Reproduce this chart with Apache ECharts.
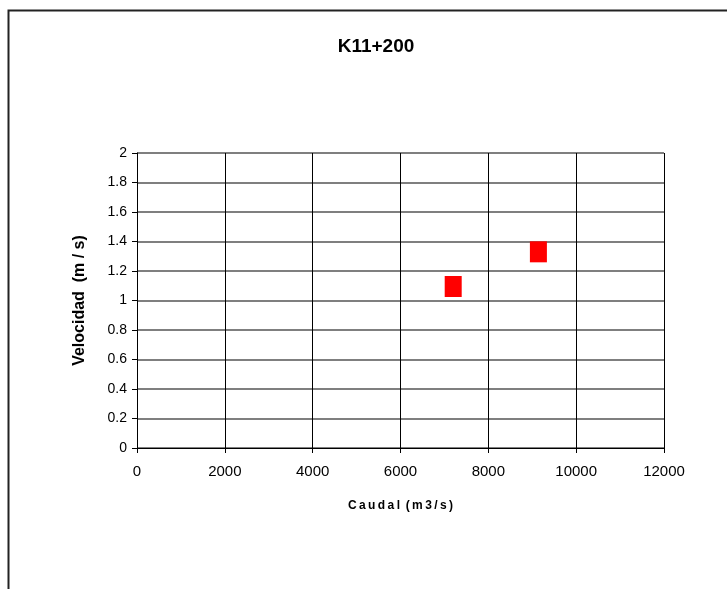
<!DOCTYPE html>
<html><head><meta charset="utf-8">
<script src="https://cdn.jsdelivr.net/npm/echarts@6/dist/echarts.min.js"></script>
<style>html,body{margin:0;padding:0;background:#fff}#c{width:727px;height:589px}</style>
</head><body><div id="c"></div>
<script>
const caudal = [7200, 9140];
const velocidad = [1.095, 1.33];
const titleText = 'K11+200';
const xName = 'C\u2009a\u2009u\u2009d\u2009a\u2009l\u2009 (\u2009m\u20093\u2009/\u2009s\u2009)';
const yName = 'Velocidad  (m / s)';

const chart = echarts.init(document.getElementById('c'), null, {renderer: 'canvas'});
chart.setOption({
  backgroundColor: '#fff',
  animation: false,
  graphic: [{type: 'polyline', shape: {points: [[8.5, 600], [8.5, 10.5], [740, 10.5]]}, style: {stroke: '#222', lineWidth: 2, fill: null}}],
  title: {text: titleText, left: 371, top: 32, textAlign: 'center',
    textStyle: {fontFamily: 'Liberation Sans, Arial', fontSize: 19, fontWeight: 'bold', color: '#000'}},
  grid: {left: 137, top: 153, width: 527, height: 295, show: false},
  xAxis: {type: 'value', min: 0, max: 12000, interval: 2000,
    name: xName, nameLocation: 'middle', nameGap: 52,
    nameTextStyle: {fontFamily: 'Liberation Sans, Arial', fontSize: 12, fontWeight: 'bold', color: '#000'},
    axisLine: {show: true, lineStyle: {color: '#000', width: 1}},
    axisTick: {show: true, length: 5, inside: false, lineStyle: {color: '#000'}},
    axisLabel: {fontFamily: 'Liberation Sans, Arial', fontSize: 15, color: '#000', margin: 16,
      formatter: v => String(v)},
    splitLine: {show: true, lineStyle: {color: '#000', width: 1}}},
  yAxis: {type: 'value', min: 0, max: 2, interval: 0.2,
    name: yName, nameLocation: 'middle', nameGap: 49, nameRotate: 90,
    nameTextStyle: {fontFamily: 'Liberation Sans, Arial', fontSize: 16, fontWeight: 'bold', color: '#000'},
    axisLine: {show: true, lineStyle: {color: '#000', width: 1}},
    axisTick: {show: true, length: 5, lineStyle: {color: '#000'}},
    axisLabel: {fontFamily: 'Liberation Sans, Arial', fontSize: 14, color: '#000', margin: 10,
      formatter: v => String(Math.round(v * 10) / 10)},
    splitLine: {show: true, lineStyle: {color: '#555', width: 1.5}}},
  series: [{type: 'scatter', data: caudal.map((x, i) => [x, velocidad[i]]),
    symbol: 'rect', symbolSize: [17, 21], itemStyle: {color: '#ff0000', opacity: 1}}]
});
</script></body></html>
